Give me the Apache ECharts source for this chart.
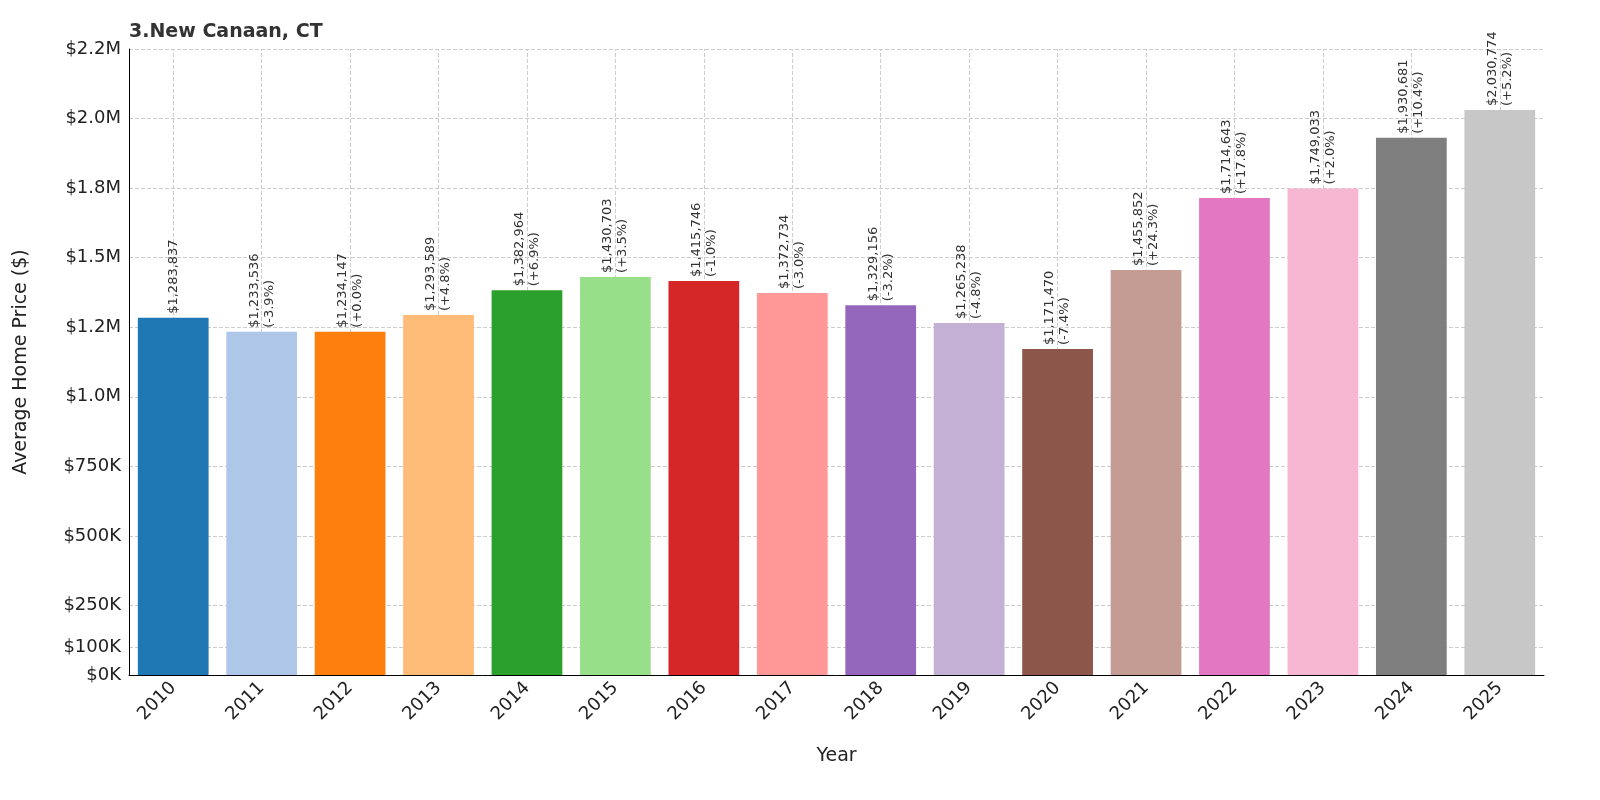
<!DOCTYPE html>
<html><head><meta charset="utf-8">
<script src="https://cdn.jsdelivr.net/npm/echarts@6/dist/echarts.min.js"></script>
<style>html,body{margin:0;padding:0;background:#fff}#c{width:1600px;height:800px}</style>
</head><body><div id="c"></div>
<script>
const years=['2010','2011','2012','2013','2014','2015','2016','2017','2018','2019','2020','2021','2022','2023','2024','2025'];
const prices=[1283837,1233536,1234147,1293589,1382964,1430703,1415746,1372734,1329156,1265238,1171470,1455852,1714643,1749033,1930681,2030774];
const changes=['','-3.9%','+0.0%','+4.8%','+6.9%','+3.5%','-1.0%','-3.0%','-3.2%','-4.8%','-7.4%','+24.3%','+17.8%','+2.0%','+10.4%','+5.2%'];
const colors=['#1f77b4','#aec7e8','#ff7f0e','#ffbb78','#2ca02c','#98df8a','#d62728','#ff9896','#9467bd','#c5b0d5','#8c564b','#c49c94','#e377c2','#f7b6d2','#7f7f7f','#c7c7c7'];
const tickVals=[0,100000,250000,500000,750000,1000000,1250000,1500000,1750000,2000000,2250000];
const tickLabels=['$0K','$100K','$250K','$500K','$750K','$1.0M','$1.2M','$1.5M','$1.8M','$2.0M','$2.2M'];
const fmt=v=>'$'+v.toLocaleString('en-US');
const ch=echarts.init(document.getElementById('c'));
const gl={type:'dashed',color:'#cccccc',width:1};
ch.setOption({
 animation:false,
 title:{text:'3.New Canaan, CT',left:124,top:18,textStyle:{fontSize:19,fontWeight:'bold',color:'#333',fontFamily:'DejaVu Sans'}},
 grid:{left:129,right:56,top:49,bottom:125},
 xAxis:{type:'category',data:years,name:'Year',nameLocation:'middle',nameGap:72,
  nameTextStyle:{fontSize:19,color:'#222',fontFamily:'DejaVu Sans'},
  axisLine:{lineStyle:{color:'#000'}},axisTick:{alignWithLabel:true,lineStyle:{color:'#000'}},
  axisLabel:{rotate:45,fontSize:18,color:'#222',fontFamily:'DejaVu Sans',margin:10}},
 yAxis:{type:'value',min:0,max:2250000,interval:50000,name:'Average Home Price ($)',nameLocation:'middle',nameGap:98,
  nameTextStyle:{fontSize:19,color:'#222',fontFamily:'DejaVu Sans'},
  splitLine:{show:false},axisLine:{show:true,lineStyle:{color:'#000'}},axisTick:{show:false},
  axisLabel:{fontSize:18,color:'#222',fontFamily:'DejaVu Sans',
   formatter:v=>{const i=tickVals.indexOf(v);return i>=0?tickLabels[i]:'';}}},
 series:[{type:'bar',barWidth:'80%',
  data:prices.map((p,i)=>({value:p,itemStyle:{color:colors[i]}})),
  label:{show:true,position:'top',rotate:90,align:'left',verticalAlign:'middle',distance:4,
   fontSize:13,color:'#333',fontFamily:'DejaVu Sans',lineHeight:15,
   formatter:p=>changes[p.dataIndex]?fmt(p.value)+'\n('+changes[p.dataIndex]+')':fmt(p.value)},
  markLine:{silent:true,symbol:'none',label:{show:false},lineStyle:gl,z:0,
   data:tickVals.slice(1).map(v=>({yAxis:v})).concat(years.map(y=>({xAxis:y})))}
 }]
});
</script></body></html>
